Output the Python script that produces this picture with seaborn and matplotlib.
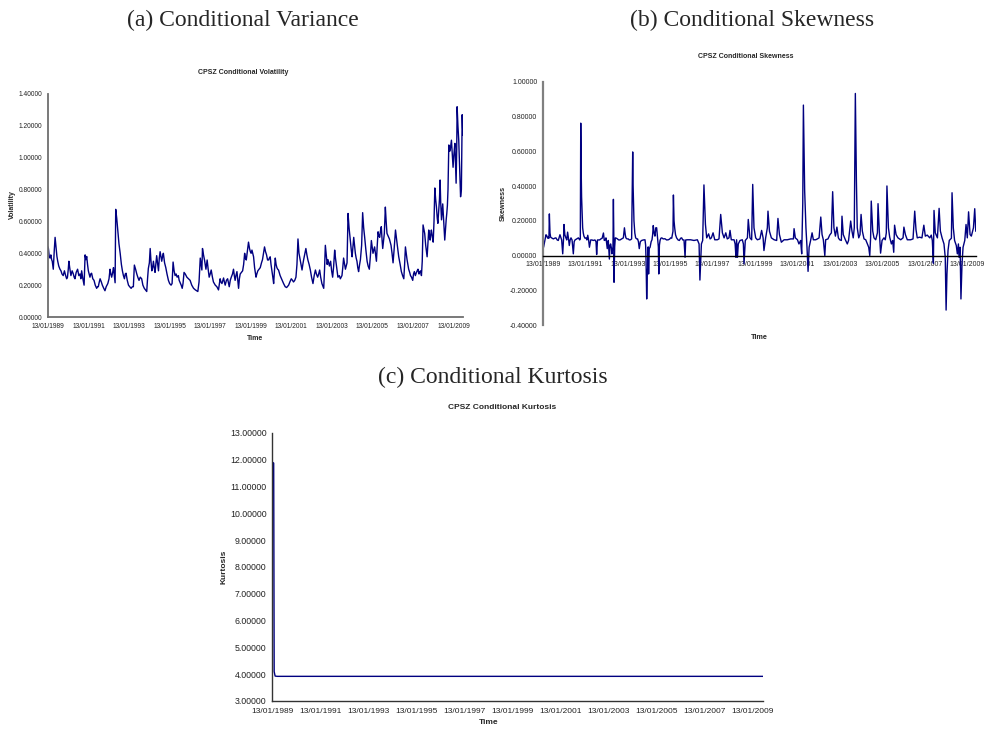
import matplotlib
matplotlib.use("Agg")
import matplotlib.pyplot as plt
import seaborn as sns
import pandas as pd
from matplotlib.ticker import FormatStrFormatter, FixedLocator

# ---------------------------------------------------------------- data
# time is measured in decimal years, starting on 13/01/1989
tick_years = [1989.03 + 2 * k for k in range(11)]
tick_labels = ["13/01/%d" % (1989 + 2 * k) for k in range(11)]

vol_time = [
    1989.03, 1989.05, 1989.09, 1989.13, 1989.17, 1989.21, 1989.24, 1989.29, 1989.34, 1989.38,
    1989.43, 1989.47, 1989.51, 1989.56, 1989.62, 1989.67, 1989.72, 1989.78, 1989.84, 1989.90,
    1989.95, 1989.99, 1990.03, 1990.06, 1990.10, 1990.16, 1990.22, 1990.28, 1990.32, 1990.36,
    1990.42, 1990.49, 1990.55, 1990.61, 1990.65, 1990.69, 1990.75, 1990.81, 1990.86, 1990.90,
    1990.94, 1990.98, 1991.02, 1991.06, 1991.10, 1991.14, 1991.18, 1991.24, 1991.30, 1991.36,
    1991.43, 1991.47, 1991.51, 1991.56, 1991.60, 1991.66, 1991.71, 1991.78, 1991.84, 1991.90,
    1991.98, 1992.04, 1992.09, 1992.13, 1992.17, 1992.22, 1992.26, 1992.30, 1992.34, 1992.37,
    1992.42, 1992.47, 1992.53, 1992.59, 1992.65, 1992.70, 1992.75, 1992.80, 1992.84, 1992.88,
    1992.94, 1993.00, 1993.06, 1993.13, 1993.19, 1993.24, 1993.29, 1993.35, 1993.41, 1993.46,
    1993.52, 1993.58, 1993.65, 1993.71, 1993.78, 1993.84, 1993.90, 1993.94, 1993.98, 1994.03,
    1994.07, 1994.11, 1994.15, 1994.19, 1994.23, 1994.27, 1994.31, 1994.35, 1994.39, 1994.44,
    1994.48, 1994.52, 1994.56, 1994.60, 1994.64, 1994.68, 1994.72, 1994.78, 1994.84, 1994.90,
    1994.97, 1995.03, 1995.10, 1995.15, 1995.20, 1995.25, 1995.30, 1995.35, 1995.40, 1995.46,
    1995.50, 1995.55, 1995.60, 1995.65, 1995.69, 1995.74, 1995.80, 1995.88, 1996.04, 1996.12,
    1996.21, 1996.30, 1996.42, 1996.48, 1996.54, 1996.58, 1996.62, 1996.65, 1996.70, 1996.75,
    1996.82, 1996.88, 1996.93, 1996.98, 1997.03, 1997.08, 1997.14, 1997.19, 1997.28, 1997.36,
    1997.44, 1997.52, 1997.56, 1997.61, 1997.69, 1997.73, 1997.77, 1997.83, 1997.89, 1997.97,
    1998.02, 1998.07, 1998.13, 1998.18, 1998.22, 1998.26, 1998.30, 1998.35, 1998.43, 1998.47,
    1998.51, 1998.57, 1998.63, 1998.68, 1998.73, 1998.77, 1998.81, 1998.86, 1998.92, 1998.97,
    1999.01, 1999.05, 1999.09, 1999.13, 1999.17, 1999.22, 1999.29, 1999.33, 1999.38, 1999.44,
    1999.50, 1999.56, 1999.61, 1999.66, 1999.71, 1999.76, 1999.81, 1999.86, 1999.91, 1999.95,
    1999.99, 2000.03, 2000.07, 2000.12, 2000.16, 2000.20, 2000.24, 2000.28, 2000.32, 2000.36,
    2000.40, 2000.48, 2000.57, 2000.65, 2000.73, 2000.80, 2000.90, 2000.96, 2001.03, 2001.09,
    2001.14, 2001.20, 2001.26, 2001.31, 2001.36, 2001.41, 2001.47, 2001.52, 2001.56, 2001.60,
    2001.64, 2001.70, 2001.75, 2001.80, 2001.85, 2001.91, 2001.97, 2002.03, 2002.10, 2002.16,
    2002.22, 2002.27, 2002.33, 2002.38, 2002.43, 2002.48, 2002.54, 2002.63, 2002.67, 2002.71,
    2002.76, 2002.80, 2002.84, 2002.91, 2002.97, 2003.02, 2003.07, 2003.12, 2003.17, 2003.21,
    2003.25, 2003.29, 2003.33, 2003.40, 2003.45, 2003.53, 2003.57, 2003.61, 2003.66, 2003.70,
    2003.74, 2003.78, 2003.83, 2003.88, 2003.94, 2003.99, 2004.03, 2004.07, 2004.11, 2004.15,
    2004.19, 2004.23, 2004.27, 2004.31, 2004.35, 2004.40, 2004.44, 2004.50, 2004.55, 2004.60,
    2004.65, 2004.71, 2004.77, 2004.82, 2004.88, 2004.93, 2004.98, 2005.02, 2005.06, 2005.10,
    2005.14, 2005.18, 2005.23, 2005.27, 2005.31, 2005.35, 2005.39, 2005.43, 2005.47, 2005.51,
    2005.54, 2005.58, 2005.62, 2005.67, 2005.71, 2005.75, 2005.80, 2005.87, 2005.91, 2005.95,
    2006.00, 2006.05, 2006.10, 2006.17, 2006.21, 2006.25, 2006.29, 2006.33, 2006.40, 2006.46,
    2006.52, 2006.58, 2006.62, 2006.66, 2006.70, 2006.74, 2006.78, 2006.82, 2006.87, 2006.91,
    2006.96, 2007.02, 2007.06, 2007.10, 2007.15, 2007.19, 2007.24, 2007.28, 2007.33, 2007.37,
    2007.41, 2007.45, 2007.49, 2007.53, 2007.57, 2007.61, 2007.66, 2007.73, 2007.77, 2007.81,
    2007.85, 2007.88, 2007.91, 2007.94, 2007.99, 2008.03, 2008.07, 2008.11, 2008.15, 2008.19,
    2008.23, 2008.26, 2008.31, 2008.34, 2008.37, 2008.40, 2008.44, 2008.47, 2008.50, 2008.55,
    2008.60, 2008.64, 2008.67, 2008.70, 2008.73, 2008.76, 2008.80, 2008.84, 2008.87, 2008.90,
    2008.93, 2008.97, 2009.01, 2009.05, 2009.10, 2009.13, 2009.16, 2009.19, 2009.21, 2009.25,
    2009.29, 2009.33, 2009.38, 2009.42, 2009.46, 2009.48, 2009.50,
]
vol_value = [
    0.44, 0.43, 0.38, 0.37, 0.39, 0.36, 0.35, 0.30, 0.42, 0.50,
    0.43, 0.38, 0.35, 0.32, 0.30, 0.29, 0.27, 0.26, 0.29, 0.26,
    0.24, 0.25, 0.30, 0.35, 0.31, 0.26, 0.29, 0.27, 0.25, 0.24,
    0.28, 0.30, 0.26, 0.27, 0.24, 0.29, 0.24, 0.20, 0.39, 0.36,
    0.38, 0.33, 0.29, 0.27, 0.25, 0.27, 0.275, 0.24, 0.23, 0.20,
    0.18, 0.19, 0.19, 0.22, 0.24, 0.22, 0.20, 0.18, 0.165, 0.19,
    0.21, 0.24, 0.30, 0.27, 0.25, 0.28, 0.31, 0.26, 0.215, 0.676,
    0.62, 0.55, 0.46, 0.40, 0.33, 0.29, 0.26, 0.24, 0.27, 0.275,
    0.23, 0.20, 0.19, 0.18, 0.19, 0.19, 0.326, 0.30, 0.27, 0.25,
    0.23, 0.25, 0.24, 0.20, 0.18, 0.17, 0.16, 0.24, 0.305, 0.34,
    0.43, 0.35, 0.29, 0.31, 0.35, 0.31, 0.28, 0.33, 0.385, 0.33,
    0.29, 0.37, 0.41, 0.38, 0.35, 0.38, 0.40, 0.34, 0.31, 0.27,
    0.23, 0.21, 0.20, 0.21, 0.345, 0.29, 0.26, 0.27, 0.25, 0.26,
    0.23, 0.215, 0.20, 0.18, 0.21, 0.28, 0.27, 0.25, 0.23, 0.20,
    0.18, 0.17, 0.16, 0.22, 0.37, 0.33, 0.295, 0.43, 0.39, 0.358,
    0.30, 0.358, 0.30, 0.25, 0.27, 0.295, 0.25, 0.22, 0.20, 0.19,
    0.17, 0.24, 0.22, 0.21, 0.245, 0.22, 0.20, 0.23, 0.24, 0.19,
    0.23, 0.25, 0.27, 0.30, 0.26, 0.23, 0.26, 0.285, 0.18, 0.24,
    0.27, 0.28, 0.29, 0.33, 0.40, 0.37, 0.358, 0.41, 0.47, 0.43,
    0.41, 0.40, 0.42, 0.40, 0.378, 0.31, 0.25, 0.27, 0.29, 0.30,
    0.31, 0.34, 0.36, 0.40, 0.44, 0.41, 0.39, 0.358, 0.358, 0.37,
    0.378, 0.33, 0.295, 0.25, 0.21, 0.29, 0.37, 0.33, 0.31, 0.30,
    0.295, 0.26, 0.233, 0.21, 0.19, 0.185, 0.20, 0.22, 0.24, 0.23,
    0.22, 0.23, 0.25, 0.33, 0.49, 0.40, 0.358, 0.32, 0.295, 0.33,
    0.36, 0.40, 0.43, 0.39, 0.358, 0.33, 0.295, 0.25, 0.21, 0.26,
    0.295, 0.27, 0.25, 0.27, 0.295, 0.25, 0.21, 0.18, 0.30, 0.45,
    0.38, 0.33, 0.36, 0.32, 0.35, 0.29, 0.25, 0.32, 0.42, 0.37,
    0.33, 0.29, 0.25, 0.26, 0.24, 0.26, 0.31, 0.37, 0.33, 0.30,
    0.32, 0.34, 0.65, 0.56, 0.48, 0.42, 0.378, 0.44, 0.50, 0.45,
    0.40, 0.37, 0.35, 0.31, 0.285, 0.33, 0.36, 0.45, 0.655, 0.56,
    0.50, 0.42, 0.35, 0.32, 0.30, 0.38, 0.48, 0.44, 0.40, 0.42,
    0.44, 0.40, 0.35, 0.45, 0.535, 0.51, 0.50, 0.54, 0.567, 0.48,
    0.43, 0.48, 0.525, 0.69, 0.60, 0.525, 0.51, 0.49, 0.47, 0.45,
    0.40, 0.34, 0.42, 0.546, 0.50, 0.46, 0.42, 0.378, 0.33, 0.285,
    0.26, 0.24, 0.33, 0.44, 0.40, 0.36, 0.33, 0.30, 0.28, 0.26,
    0.25, 0.23, 0.27, 0.285, 0.26, 0.275, 0.29, 0.30, 0.27, 0.285,
    0.29, 0.26, 0.35, 0.578, 0.55, 0.525, 0.45, 0.378, 0.46, 0.546,
    0.50, 0.483, 0.52, 0.546, 0.50, 0.47, 0.60, 0.81, 0.74, 0.69,
    0.62, 0.588, 0.68, 0.74, 0.86, 0.72, 0.61, 0.66, 0.71, 0.60,
    0.483, 0.56, 0.61, 0.65, 0.70, 0.80, 1.08, 1.04, 1.05, 1.08,
    1.11, 1.02, 0.94, 1.02, 1.09, 0.96, 0.84, 1.05, 1.32, 1.20,
    1.11, 0.95, 0.755, 0.80, 1.27, 1.19, 1.14,
]

skew_time = [
    1989.03, 1989.06, 1989.12, 1989.17, 1989.20, 1989.25, 1989.28, 1989.31, 1989.33, 1989.36,
    1989.39, 1989.46, 1989.52, 1989.58, 1989.64, 1989.70, 1989.75, 1989.83, 1989.88, 1989.91,
    1989.96, 1990.00, 1990.02, 1990.06, 1990.11, 1990.15, 1990.19, 1990.23, 1990.27, 1990.31,
    1990.35, 1990.40, 1990.46, 1990.50, 1990.54, 1990.62, 1990.70, 1990.76, 1990.79, 1990.81,
    1990.83, 1990.85, 1990.88, 1990.90, 1990.93, 1990.96, 1991.01, 1991.06, 1991.10, 1991.14,
    1991.18, 1991.22, 1991.28, 1991.34, 1991.40, 1991.48, 1991.53, 1991.56, 1991.60, 1991.64,
    1991.70, 1991.76, 1991.82, 1991.88, 1991.92, 1991.96, 1992.00, 1992.06, 1992.09, 1992.11,
    1992.16, 1992.19, 1992.22, 1992.26, 1992.28, 1992.33, 1992.35, 1992.37, 1992.38, 1992.41,
    1992.44, 1992.49, 1992.54, 1992.60, 1992.66, 1992.74, 1992.82, 1992.87, 1992.91, 1992.94,
    1992.99, 1993.05, 1993.10, 1993.16, 1993.21, 1993.26, 1993.28, 1993.32, 1993.36, 1993.40,
    1993.45, 1993.49, 1993.53, 1993.57, 1993.62, 1993.68, 1993.76, 1993.84, 1993.87, 1993.89,
    1993.92, 1993.95, 1993.97, 1993.99, 1994.01, 1994.04, 1994.08, 1994.13, 1994.17, 1994.20,
    1994.23, 1994.27, 1994.31, 1994.35, 1994.39, 1994.42, 1994.44, 1994.47, 1994.49, 1994.52,
    1994.55, 1994.59, 1994.63, 1994.70, 1994.78, 1994.86, 1994.94, 1995.00, 1995.05, 1995.10,
    1995.16, 1995.18, 1995.21, 1995.24, 1995.28, 1995.33, 1995.40, 1995.46, 1995.52, 1995.57,
    1995.62, 1995.68, 1995.73, 1995.76, 1995.84, 1995.99, 1996.15, 1996.31, 1996.39, 1996.43,
    1996.50, 1996.56, 1996.62, 1996.69, 1996.75, 1996.84, 1996.91, 1996.97, 1997.05, 1997.13,
    1997.25, 1997.33, 1997.41, 1997.49, 1997.57, 1997.65, 1997.72, 1997.80, 1997.85, 1997.91,
    1998.04, 1998.09, 1998.13, 1998.16, 1998.20, 1998.24, 1998.32, 1998.43, 1998.48, 1998.51,
    1998.57, 1998.67, 1998.71, 1998.79, 1998.87, 1998.92, 1998.98, 1999.06, 1999.14, 1999.26,
    1999.34, 1999.41, 1999.45, 1999.53, 1999.61, 1999.64, 1999.71, 1999.80, 1999.93, 2000.05,
    2000.11, 2000.18, 2000.27, 2000.40, 2000.55, 2000.71, 2000.84, 2000.87, 2000.93, 2001.03,
    2001.10, 2001.18, 2001.23, 2001.28, 2001.31, 2001.37, 2001.43, 2001.48, 2001.53, 2001.58,
    2001.65, 2001.72, 2001.78, 2001.89, 2001.97, 2002.05, 2002.13, 2002.19, 2002.25, 2002.32,
    2002.36, 2002.47, 2002.55, 2002.63, 2002.69, 2002.75, 2002.82, 2002.89, 2002.96, 2003.02,
    2003.10, 2003.13, 2003.19, 2003.29, 2003.38, 2003.44, 2003.54, 2003.60, 2003.66, 2003.71,
    2003.76, 2003.81, 2003.85, 2003.92, 2003.98, 2004.03, 2004.09, 2004.17, 2004.25, 2004.33,
    2004.39, 2004.44, 2004.48, 2004.51, 2004.58, 2004.64, 2004.72, 2004.80, 2004.83, 2004.89,
    2004.95, 2005.02, 2005.11, 2005.17, 2005.22, 2005.25, 2005.32, 2005.38, 2005.46, 2005.52,
    2005.57, 2005.61, 2005.68, 2005.77, 2005.90, 2006.01, 2006.05, 2006.12, 2006.21, 2006.37,
    2006.48, 2006.56, 2006.62, 2006.68, 2006.79, 2006.90, 2006.99, 2007.06, 2007.15, 2007.27,
    2007.34, 2007.39, 2007.44, 2007.47, 2007.53, 2007.63, 2007.71, 2007.77, 2007.85, 2007.94,
    2008.00, 2008.04, 2008.08, 2008.13, 2008.19, 2008.29, 2008.32, 2008.38, 2008.44, 2008.52,
    2008.57, 2008.62, 2008.65, 2008.70, 2008.74, 2008.79, 2008.84, 2008.92, 2008.98, 2009.04,
    2009.10, 2009.17, 2009.23, 2009.33, 2009.39, 2009.44,
]
skew_value = [
    0.040, 0.050, 0.087, 0.120, 0.116, 0.100, 0.106, 0.100, 0.240, 0.130,
    0.106, 0.100, 0.096, 0.100, 0.102, 0.090, 0.087, 0.120, 0.100, 0.090,
    0.010, 0.100, 0.179, 0.120, 0.102, 0.090, 0.135, 0.100, 0.058, 0.090,
    0.102, 0.090, 0.010, 0.080, 0.090, 0.096, 0.102, 0.090, 0.096, 0.763,
    0.500, 0.337, 0.220, 0.160, 0.130, 0.112, 0.100, 0.102, 0.090, 0.117,
    0.090, 0.048, 0.090, 0.090, 0.087, 0.090, 0.080, 0.006, 0.090, 0.090,
    0.090, 0.096, 0.100, 0.130, 0.087, 0.090, 0.102, 0.040, 0.080, 0.087,
    -0.020, 0.060, 0.067, 0.040, 0.010, 0.050, 0.324, 0.100, -0.154, 0.050,
    0.102, 0.100, 0.096, 0.090, 0.090, 0.096, 0.102, 0.160, 0.120, 0.102,
    0.096, 0.096, 0.090, 0.091, 0.096, 0.597, 0.400, 0.200, 0.130, 0.102,
    0.096, 0.096, 0.080, 0.040, 0.080, 0.087, 0.090, 0.091, 0.060, -0.029,
    -0.250, -0.100, -0.067, 0.050, -0.106, 0.040, 0.048, 0.080, 0.091, 0.120,
    0.173, 0.130, 0.112, 0.160, 0.160, 0.120, 0.096, 0.050, -0.106, 0.060,
    0.087, 0.100, 0.102, 0.096, 0.097, 0.090, 0.091, 0.095, 0.102, 0.100,
    0.140, 0.349, 0.200, 0.160, 0.120, 0.102, 0.090, 0.087, 0.100, 0.102,
    0.090, 0.090, -0.010, 0.090, 0.091, 0.091, 0.087, 0.091, 0.067, -0.141,
    0.067, 0.087, 0.407, 0.180, 0.102, 0.125, 0.096, 0.102, 0.131, 0.091,
    0.091, 0.096, 0.237, 0.131, 0.102, 0.131, 0.096, 0.102, 0.145, 0.091,
    0.091, 0.067, -0.010, 0.091, -0.010, 0.067, 0.087, 0.091, 0.067, -0.048,
    0.087, 0.102, 0.208, 0.102, 0.091, 0.410, 0.160, 0.102, 0.091, 0.096,
    0.145, 0.102, 0.029, 0.102, 0.160, 0.256, 0.140, 0.102, 0.091, 0.087,
    0.214, 0.121, 0.077, 0.091, 0.091, 0.096, 0.096, 0.155, 0.102, 0.091,
    0.067, 0.087, 0.010, 0.300, 0.867, 0.372, 0.160, 0.048, -0.091, 0.048,
    0.087, 0.131, 0.091, 0.091, 0.096, 0.102, 0.222, 0.121, 0.091, 0.000,
    0.091, 0.096, 0.118, 0.131, 0.368, 0.160, 0.112, 0.164, 0.102, 0.091,
    0.087, 0.227, 0.121, 0.091, 0.067, 0.087, 0.199, 0.141, 0.102, 0.160,
    0.934, 0.430, 0.160, 0.102, 0.121, 0.237, 0.141, 0.096, 0.091, 0.067,
    0.048, 0.000, 0.102, 0.314, 0.141, 0.102, 0.091, 0.131, 0.299, 0.141,
    0.014, 0.087, 0.102, 0.091, 0.131, 0.401, 0.160, 0.106, 0.067, 0.087,
    0.019, 0.175, 0.121, 0.102, 0.091, 0.102, 0.164, 0.121, 0.091, 0.091,
    0.096, 0.256, 0.150, 0.102, 0.106, 0.102, 0.175, 0.112, 0.118, 0.102,
    0.118, 0.087, -0.044, 0.260, 0.131, 0.102, 0.272, 0.141, 0.102, 0.067,
    -0.010, -0.314, -0.106, 0.029, 0.087, 0.100, 0.362, 0.160, 0.087, 0.058,
    0.010, 0.067, -0.010, 0.048, -0.250, -0.048, 0.048, 0.087, 0.179, 0.102,
    0.252, 0.121, 0.112, 0.160, 0.270, 0.140,
]

kurt_time = [1989.03, 1989.06, 1989.10, 1989.12, 1989.16, 1989.25, 1995.00, 2000.00, 2005.00, 2009.45]
kurt_value = [11.88, 11.90, 11.88, 4.10, 3.93, 3.92, 3.92, 3.92, 3.92, 3.92]

# ---------------------------------------------------------------- style
sns.set_style("white")
plt.rcParams["font.family"] = ["Liberation Sans", "DejaVu Sans"]

W, H = 986, 729
LINE = "#000080"
fig = plt.figure(figsize=(W / 100, H / 100), dpi=100)
fig.patch.set_facecolor("white")


def frac(x, y):
    return x / W, 1 - y / H


def make_axes(left, right, top, bottom):
    return fig.add_axes([left / W, 1 - bottom / H, (right - left) / W, (bottom - top) / H])


def style_axes(ax, fs, spine_col, spine_lw):
    ax.set_facecolor("white")
    for s in ("top", "right"):
        ax.spines[s].set_visible(False)
    for s in ("left", "bottom"):
        ax.spines[s].set_color(spine_col)
        ax.spines[s].set_linewidth(spine_lw)
    ax.xaxis.set_major_locator(FixedLocator(tick_years))
    ax.set_xticklabels(tick_labels)
    ax.yaxis.set_major_formatter(FormatStrFormatter("%.5f"))
    ax.tick_params(axis="both", labelsize=fs, colors="#222222", length=2.5,
                   width=0.8, direction="out", pad=1.5)
    ax.tick_params(axis="both", color=spine_col)
    ax.set_xlabel("")
    ax.set_ylabel("")


def draw(ax, t, v):
    df = pd.DataFrame({"t": t, "v": v})
    sns.lineplot(data=df, x="t", y="v", ax=ax, color=LINE, lw=1.0,
                 estimator=None, sort=False, legend=False)


# ---------------------------------------------------------------- (a) volatility
ax_a = make_axes(48, 463, 94, 317)
draw(ax_a, vol_time, vol_value)
ax_a.set_xlim(1989.03, 2009.50)
ax_a.set_ylim(0, 1.4)
ax_a.set_yticks([0, 0.2, 0.4, 0.6, 0.8, 1.0, 1.2, 1.4])
style_axes(ax_a, 4.8, "#6e6e6e", 1.3)

# ---------------------------------------------------------------- (b) skewness
ax_b = make_axes(543, 976, 82, 325)
draw(ax_b, skew_time, skew_value)
ax_b.set_xlim(1989.03, 2009.45)
ax_b.set_ylim(-0.4, 1.0)
ax_b.set_yticks([-0.4, -0.2, 0, 0.2, 0.4, 0.6, 0.8, 1.0])
style_axes(ax_b, 5.0, "#808080", 1.6)
ax_b.spines["bottom"].set_position(("data", 0))
ax_b.spines["bottom"].set_color("black")
ax_b.spines["bottom"].set_linewidth(1.0)
ax_b.tick_params(axis="x", color="black")

# ---------------------------------------------------------------- (c) kurtosis
ax_c = make_axes(272, 763, 433, 701)
draw(ax_c, kurt_time, kurt_value)
ax_c.set_xlim(1989.03, 2009.45)
ax_c.set_ylim(3, 13)
ax_c.set_yticks(range(3, 14))
style_axes(ax_c, 6.0, "#333333", 1.0)
ax_c.tick_params(axis="y", labelsize=6.3)
ax_c.tick_params(axis="x", pad=2.5)

# ---------------------------------------------------------------- texts
serif = ["Liberation Serif", "DejaVu Serif"]
for txt, x, y in [("(a) Conditional Variance", 243, 20),
                  ("(b) Conditional Skewness", 752, 20),
                  ("(c) Conditional Kurtosis", 493, 377)]:
    fig.text(*frac(x, y), txt, family=serif, fontsize=17, ha="center", va="center")

for txt, x, y, fs in [("CPSZ Conditional Volatility", 243, 72, 5.0),
                      ("CPSZ Conditional Skewness", 746, 57, 5.0),
                      ("CPSZ Conditional Kurtosis", 502, 407, 6.0)]:
    fig.text(*frac(x, y), txt, fontsize=fs, fontweight="bold", ha="center", va="center")

for txt, x, y, fs in [("Volatility", 12, 205, 5.0),
                      ("Skewness", 503, 203, 5.2),
                      ("Kurtosis", 224, 567, 6.0)]:
    fig.text(*frac(x, y), txt, fontsize=fs, fontweight="bold", rotation=90,
             ha="center", va="center")

for x, y, fs in [(255, 338, 5.0), (759, 337, 5.2), (489, 722, 6.0)]:
    fig.text(*frac(x, y), "Time", fontsize=fs, fontweight="bold", ha="center", va="center")

fig.savefig("out.png", dpi=100, facecolor="white")
